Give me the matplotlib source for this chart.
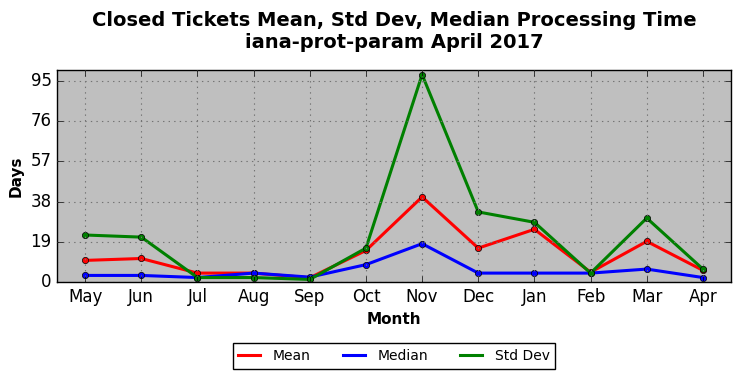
import numpy as np
import matplotlib
matplotlib.use("Agg")
import matplotlib.pyplot as plt

months = ['May', 'Jun', 'Jul', 'Aug', 'Sep', 'Oct', 'Nov', 'Dec', 'Jan', 'Feb', 'Mar', 'Apr']
mean_days = [10.2, 11.1, 4.2, 4.2, 2.0, 14.9, 40.2, 16.0, 24.9, 4.6, 19.2, 5.5]
median_days = [3.1, 3.1, 2.1, 4.2, 2.3, 8.2, 18.1, 4.2, 4.2, 4.2, 6.1, 2.1]
std_days = [22.2, 21.2, 2.1, 2.1, 1.2, 16.0, 98.0, 33.1, 28.2, 4.2, 30.2, 6.1]
y_ticks = [0, 19, 38, 57, 76, 95]

plt.style.use('classic')
fig = plt.figure(figsize=(7.41, 3.78), dpi=100, facecolor='white')
ax = fig.add_axes([0.077, 0.254, 0.9095, 0.561])
ax.set_facecolor('0.75')

x = np.arange(len(months))
ax.plot(x, mean_days, color='r', lw=2.2, marker='o', ms=4.5, mec='k', label='Mean')
ax.plot(x, median_days, color='b', lw=2.2, marker='o', ms=4.5, mec='k', label='Median')
ax.plot(x, std_days, color='g', lw=2.2, marker='o', ms=4.5, mec='k', label='Std Dev')

ax.set_xlim(-0.5, len(months) - 0.5)
ax.set_xticks(x)
ax.set_xticklabels(months, fontsize=12)
ax.set_ylim(0, 100.2)
ax.set_yticks(y_ticks)
ax.tick_params(axis='y', labelsize=12)
ax.grid(True, color='0.45', linestyle=':', linewidth=0.8)

ax.set_xlabel('Month', fontsize=11, fontweight='bold')
ax.set_ylabel('Days', fontsize=11, fontweight='bold')
ax.set_title('Closed Tickets Mean, Std Dev, Median Processing Time\niana-prot-param April 2017',
             fontsize=14, fontweight='bold', pad=16)

leg = ax.legend(loc='upper center', bbox_to_anchor=(0.5, -0.257), ncol=3,
                fontsize=10, fancybox=False, frameon=True, handlelength=1.6,
                handletextpad=0.9, numpoints=1, columnspacing=2.3)
for h in leg.get_lines():
    h.set_marker('')

fig.savefig('out.png', dpi=100, facecolor='white')
